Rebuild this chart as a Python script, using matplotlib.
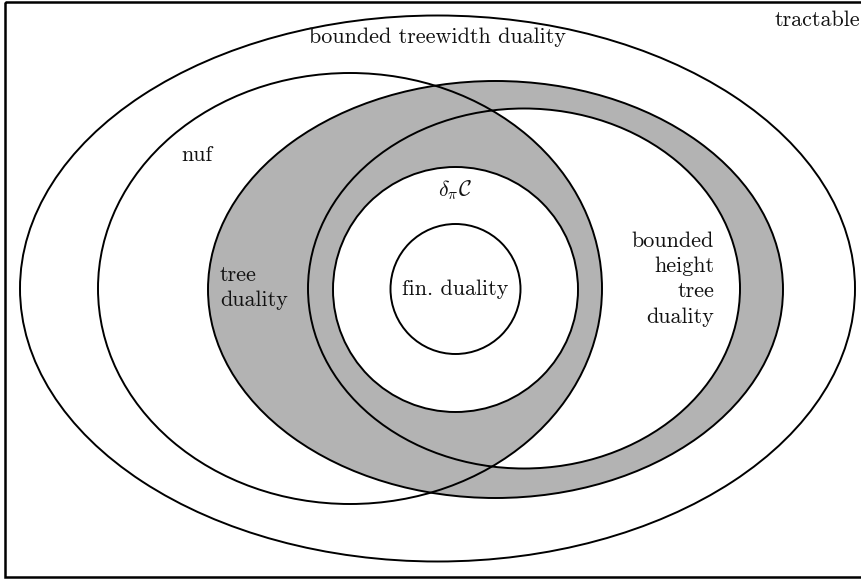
import matplotlib
matplotlib.use("Agg")
import matplotlib.pyplot as plt
from matplotlib.patches import Ellipse, Rectangle

plt.rcParams['mathtext.fontset'] = 'cm'

# Sets (in pixel coordinates of the 862x580 canvas): centre x, centre y, width, height
names = ["bounded treewidth duality", "nuf", "tree duality",
         "bounded height tree duality", "delta_pi C", "fin. duality"]
cx = [437.5, 350.0, 495.5, 524.0, 455.5, 455.5]
cy = [288.5, 288.5, 289.5, 288.5, 289.5, 289.0]
wd = [835.0, 504.0, 575.0, 432.0, 245.0, 130.0]
ht = [546.0, 431.0, 417.0, 360.0, 245.0, 130.0]

labels = ["tractable", "bounded treewidth duality", "nuf", "tree\nduality",
          r"$\delta_\pi\mathcal{C}$", "fin. duality", "bounded\nheight\ntree\nduality"]
label_x = [860, 438, 197, 220, 455, 455.5, 714]
label_y = [20, 37, 155, 288, 190, 289, 279]
label_ha = ["right", "center", "center", "left", "center", "center", "right"]

W, H = 862, 580
fig = plt.figure(figsize=(W / 100, H / 100), dpi=100)
ax = fig.add_axes([0, 0, 1, 1])
ax.set_xlim(0, W)
ax.set_ylim(H, 0)
ax.axis('off')

gray = '#b3b3b3'
lw = 1.4

# outer rectangle (tractable), cropped at right
ax.add_patch(Rectangle((5, 1.5), 900, 575.5, fill=False, ec='black', lw=1.8, zorder=5))

def ell(i, **kw):
    return Ellipse((cx[i], cy[i]), wd[i], ht[i], **kw)

# fills
ax.add_patch(ell(2, fc=gray, ec='none', zorder=1))          # tree duality gray
bh = ell(3, fc='white', ec='none', zorder=2)                  # bounded height white
ax.add_patch(bh)
nf = ell(1, fc=gray, ec='none', zorder=3)                     # nuf within bounded height: gray
ax.add_patch(nf)
nf.set_clip_path(bh)
ax.add_patch(ell(4, fc='white', ec='none', zorder=4))        # delta_pi C white

# outlines
for i in range(len(names)):
    ax.add_patch(ell(i, fill=False, ec='black', lw=lw, zorder=6))

for t, x, y, ha in zip(labels, label_x, label_y, label_ha):
    ax.text(x, y, t, ha=ha, va='center', fontsize=15.9, family='cmr10',
            multialignment=ha, linespacing=1.38, zorder=7, color='#111111')

fig.savefig("out.png", dpi=100)
